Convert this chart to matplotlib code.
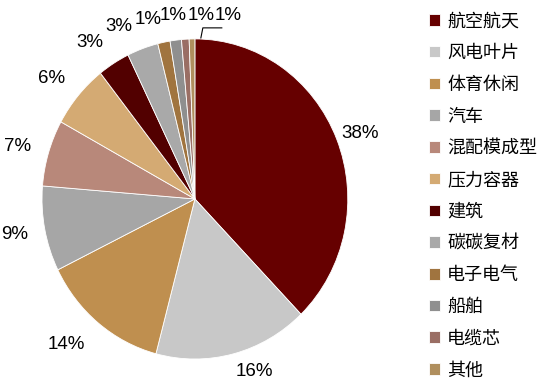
import numpy as np
import matplotlib.pyplot as plt

plt.rcParams['font.family'] = ['Liberation Sans', 'Noto Sans CJK SC', 'DejaVu Sans']

# share of carbon fibre demand by application (%)
categories = ['航空航天', '风电叶片', '体育休闲', '汽车', '混配模成型', '压力容器',
              '建筑', '碳碳复材', '电子电气', '船舶', '电缆芯', '其他']
shares = [37.8, 16.3, 13.6, 8.6, 6.7, 6.4, 3.4, 3.3, 1.3, 1.2, 0.8, 0.6]
colors = ['#660000', '#C8C8C8', '#BF8F4F', '#A6A6A6', '#B8887A', '#D4AA73',
          '#520000', '#A9A9A9', '#A0743F', '#8F8F8F', '#9A6E64', '#B08F5E']

fig = plt.figure(figsize=(5.49, 3.88), dpi=100)
ax = fig.add_axes([0.0765, 0.0747, 0.557, 0.825])

wedges, texts, autotexts = ax.pie(
    shares, colors=colors, startangle=90, counterclock=False,
    autopct='%.0f%%', pctdistance=1.2,
    wedgeprops=dict(edgecolor='white', linewidth=0.6),
    textprops=dict(fontsize=13.5, color='black'))
ax.set_aspect('auto')
ax.set_xlim(-1, 1)
ax.set_ylim(-1, 1)

# crowded labels at the top are spread out sideways
top_pos = {6: (-0.69, 0.98), 7: (-0.50, 1.075), 8: (-0.305, 1.12),
           9: (-0.14, 1.145), 10: (0.04, 1.145), 11: (0.22, 1.145)}
for i, pos in top_pos.items():
    autotexts[i].set_position(pos)
autotexts[0].set_position((1.08, 0.41))
autotexts[1].set_position((0.39, -1.08))
autotexts[2].set_position((-0.84, -0.91))
autotexts[3].set_position((-1.18, -0.225))
autotexts[4].set_position((-1.16, 0.325))
autotexts[5].set_position((-0.94, 0.75))

# leader line for the last slice
ax.plot([0.176, 0.052, 0.039], [1.069, 1.069, 1.006], color='black', lw=0.8, clip_on=False)

leg = fig.legend(wedges, categories, loc='upper left', bbox_to_anchor=(0.752, 1.01),
                 frameon=False, handlelength=0.6, handleheight=0.6, handletextpad=0.4,
                 labelspacing=0.76, prop={'family': ['Noto Sans CJK SC'], 'size': 13})

fig.savefig('out.png', dpi=100)
